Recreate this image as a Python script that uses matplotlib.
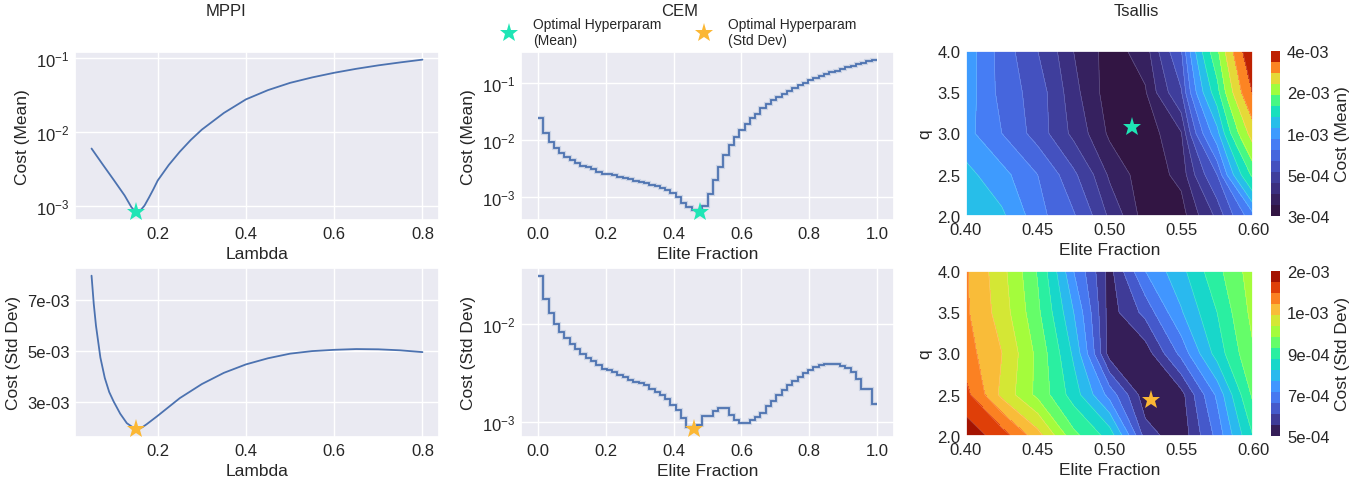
import numpy as np
import matplotlib
matplotlib.use("Agg")
import matplotlib.pyplot as plt
import seaborn as sns
from matplotlib.lines import Line2D
from matplotlib.ticker import FixedLocator, FixedFormatter

sns.set_theme(style="darkgrid")
plt.rcParams["font.family"] = ["Liberation Sans", "DejaVu Sans"]
plt.rcParams["mathtext.fontset"] = "custom"
plt.rcParams["mathtext.rm"] = "Liberation Sans"
plt.rcParams["mathtext.it"] = "Liberation Sans:italic"
plt.rcParams["mathtext.bf"] = "Liberation Sans:bold"

# ---------------- data ----------------
mppi_lambda_mean = [0.05, 0.075, 0.1, 0.125, 0.14, 0.15, 0.16, 0.17, 0.18, 0.19, 0.2, 0.225,
                    0.25, 0.275, 0.3, 0.35, 0.4, 0.45, 0.5, 0.55, 0.6, 0.65, 0.7, 0.75, 0.8]
mppi_cost_mean = [5.93e-3, 3.63e-3, 2.24e-3, 1.37e-3, 9.6e-4, 8.1e-4, 8.5e-4, 1.0e-3, 1.28e-3,
                  1.66e-3, 2.19e-3, 3.55e-3, 5.37e-3, 7.76e-3, 1.07e-2, 1.8e-2, 2.75e-2,
                  3.67e-2, 4.6e-2, 5.45e-2, 6.3e-2, 7.13e-2, 7.94e-2, 8.71e-2, 9.49e-2]

mppi_lambda_std = [0.05, 0.055, 0.06, 0.07, 0.08, 0.09, 0.1, 0.115, 0.13, 0.15, 0.165, 0.175,
                   0.2, 0.25, 0.3, 0.35, 0.4, 0.45, 0.5, 0.55, 0.6, 0.65, 0.7, 0.75, 0.8]
mppi_cost_std = [7.95e-3, 6.85e-3, 6.0e-3, 4.75e-3, 3.95e-3, 3.4e-3, 3.03e-3, 2.55e-3, 2.18e-3,
                 1.94e-3, 2.02e-3, 2.14e-3, 2.47e-3, 3.16e-3, 3.71e-3, 4.15e-3, 4.48e-3,
                 4.72e-3, 4.9e-3, 5.0e-3, 5.05e-3, 5.08e-3, 5.07e-3, 5.03e-3, 4.96e-3]

cem_elite_edges = np.linspace(0.0, 1.0, 65)
cem_cost_mean = [2.42e-2, 1.32e-2, 9.2e-3, 7.4e-3, 6.0e-3, 5.06e-3, 4.48e-3, 3.91e-3,
                 3.56e-3, 3.32e-3, 3.07e-3, 2.79e-3, 2.58e-3, 2.51e-3, 2.41e-3, 2.28e-3,
                 2.16e-3, 2.05e-3, 1.94e-3, 1.84e-3, 1.74e-3, 1.63e-3, 1.54e-3, 1.44e-3,
                 1.33e-3, 1.19e-3, 9.9e-4, 7.9e-4, 6.6e-4, 6.0e-4, 5.4e-4, 7.0e-4,
                 1.15e-3, 1.96e-3, 3.37e-3, 5.4e-3, 8.1e-3, 1.14e-2, 1.49e-2, 1.9e-2,
                 2.39e-2, 2.92e-2, 3.58e-2, 4.21e-2, 4.95e-2, 5.67e-2, 6.49e-2, 7.33e-2,
                 8.28e-2, 9.23e-2, 0.101, 0.111, 0.121, 0.131, 0.142, 0.154,
                 0.165, 0.176, 0.189, 0.202, 0.216, 0.228, 0.240, 0.257]
cem_cost_std = [3.11e-2, 1.78e-2, 1.30e-2, 1.01e-2, 8.28e-3, 7.24e-3, 6.28e-3, 5.54e-3,
                4.96e-3, 4.55e-3, 4.2e-3, 3.88e-3, 3.53e-3, 3.4e-3, 3.24e-3, 3.01e-3,
                2.9e-3, 2.72e-3, 2.59e-3, 2.53e-3, 2.38e-3, 2.2e-3, 2.03e-3, 1.88e-3,
                1.71e-3, 1.52e-3, 1.33e-3, 1.11e-3, 8.9e-4, 8.5e-4, 9.3e-4, 1.15e-3,
                1.15e-3, 1.32e-3, 1.40e-3, 1.40e-3, 1.2e-3, 1.06e-3, 9.85e-4, 9.85e-4,
                1.05e-3, 1.13e-3, 1.26e-3, 1.46e-3, 1.64e-3, 1.88e-3, 2.13e-3, 2.4e-3,
                2.63e-3, 2.92e-3, 3.19e-3, 3.45e-3, 3.66e-3, 3.84e-3, 3.94e-3, 3.94e-3,
                3.9e-3, 3.73e-3, 3.55e-3, 3.24e-3, 2.74e-3, 2.21e-3, 2.21e-3, 1.54e-3]

tsallis_elite = [0.40, 0.425, 0.45, 0.475, 0.50, 0.525, 0.55, 0.575, 0.60]
tsallis_q = [2.0, 2.5, 3.0, 3.5, 4.0]
# cost values in units of 1e-4, rows = q, cols = elite fraction
tsallis_cost_mean_e4 = [
    [12.98, 11.8, 8.33, 6.68, 4.36, 2.80, 2.85, 4.70, 8.8],
    [12.05, 10.03, 7.88, 5.65, 3.63, 2.75, 3.31, 6.55, 17.2],
    [10.03, 7.88, 5.97, 4.28, 3.01, 2.75, 3.70, 10.6, 26.0],
    [10.4, 7.32, 5.97, 3.98, 2.80, 3.07, 5.34, 15.3, 35.0],
    [10.4, 7.19, 5.45, 3.76, 2.85, 3.40, 6.43, 19.0, 41.0],
]
tsallis_cost_std_e4 = [
    [15.06, 13.87, 11.88, 9.43, 8.32, 5.70, 5.21, 6.51, 8.57],
    [13.67, 11.28, 9.72, 8.26, 6.66, 5.21, 5.33, 6.96, 9.36],
    [12.79, 11.53, 9.72, 7.84, 5.29, 5.25, 6.51, 8.20, 9.86],
    [12.55, 11.11, 9.36, 7.39, 5.29, 6.05, 7.33, 8.57, 10.16],
    [12.50, 10.95, 9.16, 6.86, 5.33, 6.86, 7.78, 9.02, 10.31],
]
tsallis_opt_mean = (0.516, 3.08)
tsallis_opt_std = (0.529, 2.44)
tsallis_mean_range = (2.6e-4, 4.16e-3)
tsallis_std_range = (5.1e-4, 1.55e-3)
cbar_mean_ticklabels = ["3e-04", "5e-04", "1e-03", "2e-03", "4e-03"]
cbar_std_ticklabels = ["5e-04", "7e-04", "9e-04", "1e-03", "2e-03"]
mppi_std_ticks = [3e-3, 5e-3, 7e-3]
mppi_std_ticklabels = ["3e-03", "5e-03", "7e-03"]

# ---------------- styling ----------------
LINE = "#4c72b0"
STAR_MEAN = "#1fe5b5"
STAR_STD = "#fbb734"
TICK_FS = 12
LABEL_FS = 12.5
W, H = 1368, 485

fig = plt.figure(figsize=(W / 100, H / 100), dpi=100)


def add_ax(x0, y0, x1, y1):
    return fig.add_axes([x0 / W, 1 - y1 / H, (x1 - x0) / W, (y1 - y0) / H])


def style(ax):
    ax.tick_params(labelsize=TICK_FS, length=0, pad=4)


star_kw = dict(marker="*", markersize=14, linestyle="none", zorder=5,
               markeredgewidth=0)

# MPPI mean
ax = add_ax(75, 53, 439, 221)
ax.plot(mppi_lambda_mean, mppi_cost_mean, color=LINE, lw=1.3)
i = int(np.argmin(mppi_cost_mean))
ax.plot(mppi_lambda_mean[i], mppi_cost_mean[i], color=STAR_MEAN, **star_kw)
ax.set_yscale("log")
ax.set_xticks([0.2, 0.4, 0.6, 0.8])
ax.set_xlabel("Lambda", fontsize=LABEL_FS)
ax.set_ylabel("Cost (Mean)", fontsize=LABEL_FS)
style(ax)

# MPPI std
ax = add_ax(75, 269, 439, 438)
ax.plot(mppi_lambda_std, mppi_cost_std, color=LINE, lw=1.3)
i = int(np.argmin(mppi_cost_std))
ax.plot(mppi_lambda_std[i], mppi_cost_std[i], color=STAR_STD, **star_kw)
ax.set_xticks([0.2, 0.4, 0.6, 0.8])
ax.yaxis.set_major_locator(FixedLocator(mppi_std_ticks))
ax.yaxis.set_major_formatter(FixedFormatter(mppi_std_ticklabels))
ax.set_xlabel("Lambda", fontsize=LABEL_FS)
ax.set_ylabel("Cost (Std Dev)", fontsize=LABEL_FS)
style(ax)

# CEM
centers = 0.5 * (cem_elite_edges[:-1] + cem_elite_edges[1:])
for (y0, y1), vals, star_c, ylab in [((53, 221), cem_cost_mean, STAR_MEAN, "Cost (Mean)"),
                                     ((269, 438), cem_cost_std, STAR_STD, "Cost (Std Dev)")]:
    ax = add_ax(521, y0, 894, y1)
    ax.stairs(vals, cem_elite_edges, color=LINE, lw=3.0, alpha=0.2, baseline=None)
    ax.stairs(vals, cem_elite_edges, color=LINE, lw=1.3, baseline=None)
    i = int(np.argmin(vals))
    ax.plot(centers[i], vals[i], color=star_c, **star_kw)
    ax.set_yscale("log")
    ax.set_xlim(-0.05, 1.05)
    ax.set_xticks([0.0, 0.2, 0.4, 0.6, 0.8, 1.0])
    ax.set_xlabel("Elite Fraction", fontsize=LABEL_FS)
    ax.set_ylabel(ylab, fontsize=LABEL_FS)
    style(ax)

# Tsallis
Xg, Yg = np.meshgrid(tsallis_elite, tsallis_q)
for (y0, y1), vals, rng, tl, star_xy, star_c, lab in [
        ((52, 217), tsallis_cost_mean_e4, tsallis_mean_range, cbar_mean_ticklabels,
         tsallis_opt_mean, STAR_MEAN, "Cost (Mean)"),
        ((272, 437), tsallis_cost_std_e4, tsallis_std_range, cbar_std_ticklabels,
         tsallis_opt_std, STAR_STD, "Cost (Std Dev)")]:
    ax = add_ax(966, y0, 1253, y1)
    Z = np.array(vals) * 1e-4
    levels = np.geomspace(rng[0], rng[1], 16)
    cs = ax.contourf(Xg, Yg, Z, levels=levels, cmap="turbo")
    ax.contour(Xg, Yg, Z, levels=levels[1:-1], colors="white", linewidths=0.4, alpha=0.3)
    ax.plot(star_xy[0], star_xy[1], color=star_c, **star_kw)
    ax.set_xticks([0.40, 0.45, 0.50, 0.55, 0.60])
    ax.set_xticklabels(["0.40", "0.45", "0.50", "0.55", "0.60"])
    ax.set_yticks([2.0, 2.5, 3.0, 3.5, 4.0])
    ax.set_xlabel("Elite Fraction", fontsize=LABEL_FS)
    ax.set_ylabel("q", fontsize=LABEL_FS)
    style(ax)
    cax = add_ax(1271, y0, 1280, y1)
    cb = fig.colorbar(cs, cax=cax)
    cb.outline.set_visible(False)
    ticks = np.geomspace(rng[0], rng[1], 5)
    cb.set_ticks(ticks)
    cb.set_ticklabels(tl)
    cb.ax.minorticks_off()
    cb.ax.tick_params(labelsize=TICK_FS, length=0, pad=5)
    cb.set_label(lab, fontsize=LABEL_FS)

# column titles
for xc, t in [(226, "MPPI"), (680, "CEM"), (1136, "Tsallis")]:
    fig.text(xc / W, 1 - 11 / H, t, ha="center", va="center", fontsize=12, color="#262626")

# legend
handles = [Line2D([], [], color=STAR_MEAN, **star_kw),
           Line2D([], [], color=STAR_STD, **star_kw)]
fig.legend(handles, ["Optimal Hyperparam\n(Mean)", "Optimal Hyperparam\n(Std Dev)"],
           ncol=2, loc="center", bbox_to_anchor=(676 / W, 1 - 33 / H), frameon=False,
           fontsize=10, handletextpad=0.7, columnspacing=2.1, labelspacing=0.2)

fig.savefig("out.png", dpi=100)
